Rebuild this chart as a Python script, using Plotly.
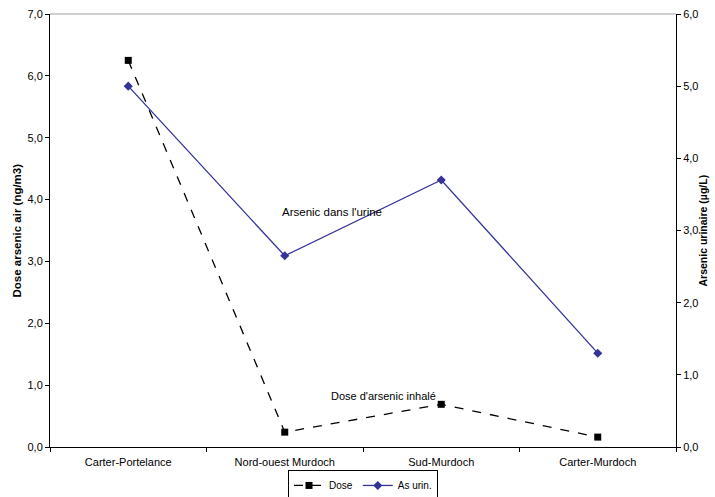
import plotly.graph_objects as go

categories = ["Carter-Portelance", "Nord-ouest Murdoch", "Sud-Murdoch", "Carter-Murdoch"]
dose = [6.25, 0.24, 0.69, 0.16]
as_urin = [5.0, 2.65, 3.70, 1.30]
left_ticks = [0, 1, 2, 3, 4, 5, 6, 7]
right_ticks = [0, 1, 2, 3, 4, 5, 6]

FONT = "Liberation Sans, Arial, sans-serif"

fig = go.Figure()
fig.add_trace(go.Scatter(
    x=categories, y=dose, name="Dose", mode="lines+markers",
    line=dict(color="black", width=1.3, dash="dash"),
    marker=dict(symbol="square", size=7, color="black"),
))
fig.add_trace(go.Scatter(
    x=categories, y=as_urin, name="As urin.", mode="lines+markers", yaxis="y2",
    line=dict(color="#333399", width=1.3),
    marker=dict(symbol="diamond", size=7, color="#333399"),
))

fig.add_annotation(x=1.3, y=3.25, xref="x", yref="y2", text="Arsenic dans l'urine",
                   showarrow=False, font=dict(size=11.5, color="black", family=FONT))
fig.add_annotation(x=1.63, y=0.83, xref="x", yref="y", text="Dose d'arsenic inhalé",
                   showarrow=False, font=dict(size=11, color="black", family=FONT))
# axis titles
fig.add_annotation(x=-34 / 626, xanchor="center", y=0.5, xref="paper", yref="paper",
                   text="<b>Dose arsenic air (ng/m3)</b>",
                   textangle=-90, showarrow=False, font=dict(size=11.5, family=FONT))
fig.add_annotation(x=1 + 26 / 626, xanchor="center", y=0.5, xref="paper", yref="paper",
                   text="<b>Arsenic urinaire (µg/L)</b>",
                   textangle=-90, showarrow=False, font=dict(size=10.5, family=FONT))

fig.update_layout(
    width=715, height=497,
    margin=dict(l=50, r=39, t=14, b=50, autoexpand=False),
    paper_bgcolor="white", plot_bgcolor="white",
    font=dict(family=FONT, size=11, color="black"),
    showlegend=True,
    legend=dict(orientation="h", x=0.5, xanchor="center", y=-0.053, yanchor="top",
                bordercolor="black", borderwidth=1, bgcolor="white",
                font=dict(size=10), itemwidth=30, tracegroupgap=0),
    xaxis=dict(type="category", range=[-0.5, 3.5], tickson="boundaries",
               ticks="outside", ticklen=4, tickcolor="black", automargin=False,
               ticklabelstandoff=5,
               showline=True, linecolor="black", linewidth=1, showgrid=False,
               mirror=False, tickfont=dict(size=11)),
    yaxis=dict(range=[0, 7], tickvals=left_ticks,
               ticktext=[f"{v},0" for v in left_ticks], automargin=False,
               ticks="outside", ticklen=4, tickcolor="black",
               showline=True, linecolor="black", linewidth=1,
               showgrid=False, zeroline=False, tickfont=dict(size=11)),
    yaxis2=dict(range=[0, 6], tickvals=right_ticks,
                ticktext=[f"{v},0" for v in right_ticks], automargin=False,
                overlaying="y", side="right",
                ticks="outside", ticklen=4, tickcolor="black",
                showline=True, linecolor="black", linewidth=1,
                showgrid=False, zeroline=False, tickfont=dict(size=11)),
)
# top border of plot area
fig.add_shape(type="line", xref="paper", yref="paper", x0=0, x1=1, y0=1, y1=1,
              line=dict(color="#a0a0a0", width=1))

fig.write_html("out.html", config={"displayModeBar": False},
               post_script="document.body.style.margin='0';document.body.style.overflow='hidden';")
